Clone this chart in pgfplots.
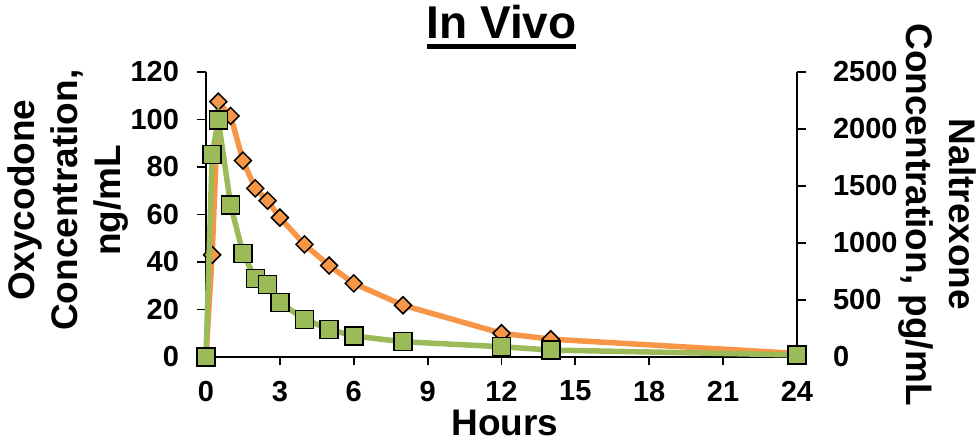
\documentclass[border=0pt]{standalone}
\usepackage{fontspec}
\setmainfont{Liberation Sans}
\usepackage{pgfplots}
\pgfplotsset{compat=1.18}
\newcommand\thickul[1]{\vtop{\hbox{#1}\kern5pt\hrule height 4.5pt}}
\definecolor{oxy}{HTML}{F79646}
\definecolor{nal}{HTML}{9BBB59}
\begin{document}
\begin{tikzpicture}
\pgfplotsset{
  every axis/.append style={
    scale only axis, width=591pt, height=285pt,
    xmin=0, xmax=24, clip=false,
    /pgf/number format/assume math mode=true,
    /pgf/number format/1000 sep={},
    tick label style={font=\fontsize{29}{33}\selectfont\bfseries},
    label style={font=\fontsize{37}{43}\selectfont\bfseries},
    axis line style={line width=1.8pt},
    major tick style={line width=1.8pt, black},
    major tick length=8.5pt,
    tick align=outside,
  }
}
\begin{axis}[
  name=ax,
  axis x line*=bottom, axis y line*=left,
  ymin=0, ymax=120, ytick={0,20,...,120},
  xtick={0,3,...,24},
  yticklabel style={xshift=-15pt},
  xticklabel style={yshift=-12pt},
  xlabel={Hours},
  xlabel style={at={(axis description cs:0.506,0)}, anchor=base, yshift=-79pt, inner sep=0pt},
  ylabel={Oxycodone\\Concentration,\\ng/mL},
  ylabel style={align=center, at={(axis description cs:-0.2335,0.55)}, anchor=center},
  title={\thickul{In Vivo}},
  title style={font=\fontsize{46}{50}\selectfont\bfseries, at={(axis description cs:0.5,1)}, anchor=base, yshift=27pt, inner sep=0pt},
]
\addplot[oxy, line width=5.5pt, mark=square*, mark size=6pt,
  mark options={rotate=45, fill=oxy, draw=black, line width=1.5pt}]
coordinates {
(0,0) (0.25,43) (0.5,107.5) (1,101.5) (1.5,82.7) (2,71) (2.5,65.8) (3,58.7)
(4,47.4) (5,38.5) (6,31) (8,21.8) (12,10) (14,7.5) (24,1.5)
};
\end{axis}
\begin{axis}[
  axis y line*=right, axis x line=none,
  ymin=0, ymax=2500, ytick={0,500,...,2500},
  yticklabel style={xshift=24pt},
  ylabel={Naltrexone\\Concentration, pg/mL},
  ylabel style={align=center, rotate=180, at={(axis description cs:1.2385,0.5)}, anchor=center},
]
\addplot[nal, line width=5.5pt, mark=square*, mark size=9pt,
  mark options={fill=nal, draw=black, line width=1.5pt}]
coordinates {
(0,0) (0.25,1778) (0.5,2079) (1,1333) (1.5,910) (2,690) (2.5,638) (3,476)
(4,331) (5,243) (6,184) (8,134) (12,90) (14,61) (24,18)
};
\end{axis}
\pgfresetboundingbox
\path ([shift={(-206pt,-86pt)}]ax.south west) rectangle ([shift={(183pt,72pt)}]ax.north east);
\end{tikzpicture}
\end{document}
